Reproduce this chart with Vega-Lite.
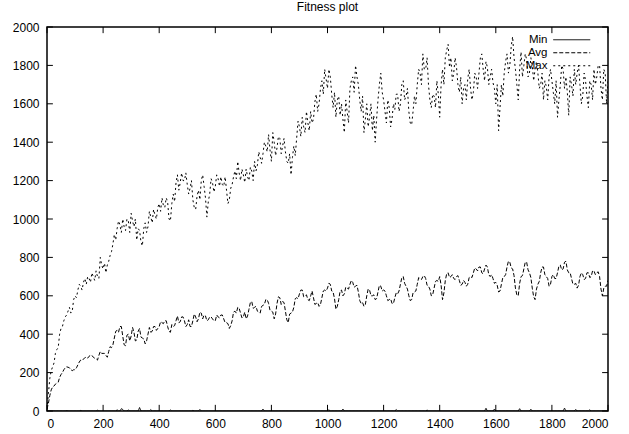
{
  "$schema": "https://vega.github.io/schema/vega-lite/v6.json",
  "width": 561,
  "height": 384,
  "autosize": {"type": "none"},
  "padding": {"left": 47, "top": 27, "right": 21, "bottom": 23},
  "background": "white",
  "title": {"text": "Fitness plot", "font": "Liberation Sans", "fontSize": 12, "fontWeight": "normal", "color": "black", "offset": 7, "anchor": "middle"},
  "config": {
    "view": {"stroke": "black", "strokeWidth": 1.5},
    "axis": {"grid": false, "domain": false, "ticks": false, "labelOverlap": false, "labelFont": "Liberation Sans", "labelFontSize": 12, "labelColor": "black", "title": null, "format": "d"},
    "legend": {"labelFont": "Liberation Sans", "labelFontSize": 11.5, "labelColor": "black"}
  },
  "datasets": {
    "ticks": [{"t":0},{"t":200},{"t":400},{"t":600},{"t":800},{"t":1000},{"t":1200},{"t":1400},{"t":1600},{"t":1800},{"t":2000}],
    "main": [
    {"g":0,"Min":0,"Avg":10,"Max":10},{"g":10,"Min":0,"Avg":80,"Max":170},{"g":20,"Min":0,"Avg":125,"Max":230},{"g":30,"Min":0,"Avg":140,"Max":300},{"g":40,"Min":0,"Avg":150,"Max":330},
    {"g":50,"Min":0,"Avg":190,"Max":430},{"g":60,"Min":0,"Avg":215,"Max":470},{"g":70,"Min":2,"Avg":230,"Max":500},{"g":80,"Min":0,"Avg":225,"Max":540},{"g":90,"Min":0,"Avg":210,"Max":520},
    {"g":100,"Min":0,"Avg":215,"Max":600},{"g":110,"Min":0,"Avg":240,"Max":630},{"g":120,"Min":3,"Avg":265,"Max":650},{"g":130,"Min":0,"Avg":270,"Max":670},{"g":140,"Min":0,"Avg":280,"Max":660},
    {"g":150,"Min":0,"Avg":285,"Max":690},{"g":160,"Min":0,"Avg":290,"Max":720},{"g":170,"Min":0,"Avg":275,"Max":680},{"g":180,"Min":4,"Avg":265,"Max":700},{"g":190,"Min":0,"Avg":310,"Max":800},
    {"g":200,"Min":0,"Avg":300,"Max":740},{"g":210,"Min":0,"Avg":290,"Max":720},{"g":220,"Min":0,"Avg":310,"Max":780},{"g":230,"Min":0,"Avg":330,"Max":830},{"g":240,"Min":0,"Avg":380,"Max":920},
    {"g":250,"Min":6,"Avg":420,"Max":950},{"g":260,"Min":0,"Avg":440,"Max":970},{"g":270,"Min":8,"Avg":390,"Max":1000},{"g":280,"Min":0,"Avg":340,"Max":940},{"g":290,"Min":5,"Avg":400,"Max":990},
    {"g":300,"Min":0,"Avg":390,"Max":1030},{"g":310,"Min":0,"Avg":410,"Max":960},{"g":320,"Min":0,"Avg":370,"Max":890},{"g":330,"Min":18,"Avg":430,"Max":940},{"g":340,"Min":0,"Avg":380,"Max":860},
    {"g":350,"Min":0,"Avg":350,"Max":980},{"g":360,"Min":0,"Avg":400,"Max":960},{"g":370,"Min":7,"Avg":410,"Max":1010},{"g":380,"Min":0,"Avg":440,"Max":1050},{"g":390,"Min":0,"Avg":420,"Max":1000},
    {"g":400,"Min":0,"Avg":440,"Max":1080},{"g":410,"Min":0,"Avg":460,"Max":1110},{"g":420,"Min":0,"Avg":470,"Max":1060},{"g":430,"Min":0,"Avg":440,"Max":1090},{"g":440,"Min":5,"Avg":410,"Max":990},
    {"g":450,"Min":0,"Avg":440,"Max":1130},{"g":460,"Min":0,"Avg":470,"Max":1190},{"g":470,"Min":0,"Avg":460,"Max":1150},{"g":480,"Min":0,"Avg":490,"Max":1240},{"g":490,"Min":0,"Avg":470,"Max":1200},
    {"g":500,"Min":0,"Avg":450,"Max":1180},{"g":510,"Min":0,"Avg":440,"Max":1160},{"g":520,"Min":3,"Avg":470,"Max":1100},{"g":530,"Min":0,"Avg":490,"Max":1050},{"g":540,"Min":0,"Avg":480,"Max":1150},
    {"g":550,"Min":0,"Avg":510,"Max":1200},{"g":560,"Min":0,"Avg":500,"Max":1170},{"g":570,"Min":0,"Avg":470,"Max":1010},{"g":580,"Min":0,"Avg":490,"Max":1130},{"g":590,"Min":0,"Avg":480,"Max":1190},
    {"g":600,"Min":0,"Avg":470,"Max":1170},{"g":610,"Min":0,"Avg":490,"Max":1210},{"g":620,"Min":0,"Avg":500,"Max":1220},{"g":630,"Min":0,"Avg":480,"Max":1170},{"g":640,"Min":0,"Avg":460,"Max":1150},
    {"g":650,"Min":0,"Avg":430,"Max":1100},{"g":660,"Min":0,"Avg":470,"Max":1180},{"g":670,"Min":0,"Avg":520,"Max":1250},{"g":680,"Min":0,"Avg":540,"Max":1300},{"g":690,"Min":0,"Avg":510,"Max":1200},
    {"g":700,"Min":0,"Avg":490,"Max":1230},{"g":710,"Min":0,"Avg":480,"Max":1260},{"g":720,"Min":0,"Avg":530,"Max":1200},{"g":730,"Min":0,"Avg":570,"Max":1250},{"g":740,"Min":0,"Avg":540,"Max":1300},
    {"g":750,"Min":0,"Avg":520,"Max":1280},{"g":760,"Min":0,"Avg":510,"Max":1320},{"g":770,"Min":10,"Avg":550,"Max":1340},{"g":780,"Min":0,"Avg":580,"Max":1380},{"g":790,"Min":0,"Avg":560,"Max":1440},
    {"g":800,"Min":0,"Avg":520,"Max":1300},{"g":810,"Min":0,"Avg":480,"Max":1400},{"g":820,"Min":0,"Avg":560,"Max":1370},{"g":830,"Min":0,"Avg":590,"Max":1420},{"g":840,"Min":0,"Avg":570,"Max":1380},
    {"g":850,"Min":0,"Avg":520,"Max":1350},{"g":860,"Min":0,"Avg":460,"Max":1290},{"g":870,"Min":0,"Avg":510,"Max":1230},{"g":880,"Min":0,"Avg":540,"Max":1380},{"g":890,"Min":0,"Avg":590,"Max":1420},
    {"g":900,"Min":0,"Avg":610,"Max":1480},{"g":910,"Min":0,"Avg":630,"Max":1530},{"g":920,"Min":0,"Avg":600,"Max":1450},{"g":930,"Min":0,"Avg":580,"Max":1500},{"g":940,"Min":0,"Avg":600,"Max":1560},
    {"g":950,"Min":0,"Avg":590,"Max":1520},{"g":960,"Min":0,"Avg":560,"Max":1650},{"g":970,"Min":0,"Avg":545,"Max":1600},{"g":980,"Min":0,"Avg":590,"Max":1720},{"g":990,"Min":0,"Avg":630,"Max":1780},
    {"g":1000,"Min":0,"Avg":640,"Max":1680},{"g":1010,"Min":0,"Avg":660,"Max":1740},{"g":1020,"Min":0,"Avg":620,"Max":1580},{"g":1030,"Min":0,"Avg":530,"Max":1530},{"g":1040,"Min":0,"Avg":580,"Max":1640},
    {"g":1050,"Min":0,"Avg":630,"Max":1600},{"g":1060,"Min":0,"Avg":610,"Max":1450},{"g":1070,"Min":0,"Avg":640,"Max":1560},{"g":1080,"Min":0,"Avg":660,"Max":1680},{"g":1090,"Min":0,"Avg":670,"Max":1740},
    {"g":1100,"Min":0,"Avg":650,"Max":1800},{"g":1110,"Min":0,"Avg":620,"Max":1700},{"g":1120,"Min":0,"Avg":560,"Max":1560},{"g":1130,"Min":0,"Avg":545,"Max":1450},{"g":1140,"Min":0,"Avg":600,"Max":1600},
    {"g":1150,"Min":0,"Avg":630,"Max":1530},{"g":1160,"Min":0,"Avg":600,"Max":1460},{"g":1170,"Min":0,"Avg":580,"Max":1400},{"g":1180,"Min":0,"Avg":620,"Max":1620},{"g":1190,"Min":0,"Avg":650,"Max":1760},
    {"g":1200,"Min":0,"Avg":630,"Max":1620},{"g":1210,"Min":0,"Avg":600,"Max":1500},{"g":1220,"Min":0,"Avg":580,"Max":1580},{"g":1230,"Min":0,"Avg":560,"Max":1520},{"g":1240,"Min":0,"Avg":590,"Max":1570},
    {"g":1250,"Min":0,"Avg":610,"Max":1650},{"g":1260,"Min":0,"Avg":660,"Max":1600},{"g":1270,"Min":0,"Avg":700,"Max":1720},{"g":1280,"Min":0,"Avg":650,"Max":1640},{"g":1290,"Min":0,"Avg":600,"Max":1560},
    {"g":1300,"Min":0,"Avg":580,"Max":1490},{"g":1310,"Min":0,"Avg":620,"Max":1640},{"g":1320,"Min":0,"Avg":660,"Max":1700},{"g":1330,"Min":0,"Avg":690,"Max":1760},{"g":1340,"Min":0,"Avg":700,"Max":1860},
    {"g":1350,"Min":0,"Avg":690,"Max":1780},{"g":1360,"Min":0,"Avg":650,"Max":1700},{"g":1370,"Min":0,"Avg":600,"Max":1580},{"g":1380,"Min":0,"Avg":640,"Max":1640},{"g":1390,"Min":0,"Avg":680,"Max":1720},
    {"g":1400,"Min":0,"Avg":700,"Max":1530},{"g":1410,"Min":0,"Avg":580,"Max":1780},{"g":1420,"Min":0,"Avg":680,"Max":1840},{"g":1430,"Min":0,"Avg":720,"Max":1910},{"g":1440,"Min":0,"Avg":700,"Max":1840},
    {"g":1450,"Min":0,"Avg":690,"Max":1760},{"g":1460,"Min":0,"Avg":700,"Max":1790},{"g":1470,"Min":0,"Avg":680,"Max":1660},{"g":1480,"Min":0,"Avg":660,"Max":1600},{"g":1490,"Min":0,"Avg":670,"Max":1700},
    {"g":1500,"Min":0,"Avg":660,"Max":1730},{"g":1510,"Min":0,"Avg":700,"Max":1680},{"g":1520,"Min":0,"Avg":720,"Max":1660},{"g":1530,"Min":0,"Avg":740,"Max":1740},{"g":1540,"Min":0,"Avg":750,"Max":1760},
    {"g":1550,"Min":0,"Avg":720,"Max":1860},{"g":1560,"Min":0,"Avg":740,"Max":1720},{"g":1570,"Min":0,"Avg":750,"Max":1790},{"g":1580,"Min":0,"Avg":700,"Max":1740},{"g":1590,"Min":0,"Avg":690,"Max":1710},
    {"g":1600,"Min":0,"Avg":670,"Max":1600},{"g":1610,"Min":0,"Avg":620,"Max":1460},{"g":1620,"Min":0,"Avg":660,"Max":1700},{"g":1630,"Min":0,"Avg":700,"Max":1760},{"g":1640,"Min":0,"Avg":750,"Max":1860},
    {"g":1650,"Min":0,"Avg":775,"Max":1800},{"g":1660,"Min":0,"Avg":740,"Max":1950},{"g":1670,"Min":0,"Avg":640,"Max":1780},{"g":1680,"Min":0,"Avg":600,"Max":1620},{"g":1690,"Min":0,"Avg":700,"Max":1870},
    {"g":1700,"Min":0,"Avg":740,"Max":1800},{"g":1710,"Min":0,"Avg":775,"Max":1830},{"g":1720,"Min":0,"Avg":720,"Max":1760},{"g":1730,"Min":0,"Avg":640,"Max":1800},{"g":1740,"Min":0,"Avg":580,"Max":1780},
    {"g":1750,"Min":0,"Avg":660,"Max":1760},{"g":1760,"Min":0,"Avg":720,"Max":1700},{"g":1770,"Min":0,"Avg":750,"Max":1620},{"g":1780,"Min":0,"Avg":700,"Max":1690},{"g":1790,"Min":0,"Avg":650,"Max":1740},
    {"g":1800,"Min":0,"Avg":700,"Max":1720},{"g":1810,"Min":0,"Avg":690,"Max":1600},{"g":1820,"Min":0,"Avg":720,"Max":1530},{"g":1830,"Min":0,"Avg":760,"Max":1700},{"g":1840,"Min":0,"Avg":740,"Max":1780},
    {"g":1850,"Min":0,"Avg":780,"Max":1740},{"g":1860,"Min":0,"Avg":720,"Max":1540},{"g":1870,"Min":0,"Avg":690,"Max":1700},{"g":1880,"Min":0,"Avg":660,"Max":1780},{"g":1890,"Min":0,"Avg":640,"Max":1760},
    {"g":1900,"Min":0,"Avg":700,"Max":1700},{"g":1910,"Min":0,"Avg":710,"Max":1640},{"g":1920,"Min":0,"Avg":690,"Max":1720},{"g":1930,"Min":0,"Avg":720,"Max":1580},{"g":1940,"Min":0,"Avg":700,"Max":1700},
    {"g":1950,"Min":0,"Avg":730,"Max":1780},{"g":1960,"Min":0,"Avg":720,"Max":1740},{"g":1970,"Min":0,"Avg":700,"Max":1800},{"g":1980,"Min":0,"Avg":600,"Max":1620},{"g":1990,"Min":0,"Avg":650,"Max":1760},
    {"g":2000,"Min":0,"Avg":680,"Max":1720},
    {"g":5,"Min":0,"Avg":40,"Max":90},{"g":15,"Min":0,"Avg":110,"Max":210},{"g":25,"Min":0,"Avg":130,"Max":250},{"g":35,"Min":0,"Avg":145,"Max":320},{"g":45,"Min":0,"Avg":175,"Max":400},
    {"g":55,"Min":0,"Avg":200,"Max":440},{"g":65,"Min":0,"Avg":225,"Max":490},{"g":75,"Min":0,"Avg":228,"Max":520},{"g":85,"Min":0,"Avg":215,"Max":510},{"g":95,"Min":0,"Avg":215,"Max":580},
    {"g":105,"Min":0,"Avg":225,"Max":590},{"g":115,"Min":0,"Avg":255,"Max":660},{"g":125,"Min":0,"Avg":262,"Max":630},{"g":135,"Min":0,"Avg":278,"Max":690},{"g":145,"Min":0,"Avg":275,"Max":700},
    {"g":155,"Min":0,"Avg":290,"Max":670},{"g":165,"Min":0,"Avg":280,"Max":700},{"g":175,"Min":0,"Avg":272,"Max":730},{"g":185,"Min":0,"Avg":290,"Max":690},{"g":195,"Min":0,"Avg":300,"Max":760},
    {"g":205,"Min":0,"Avg":300,"Max":770},{"g":215,"Min":0,"Avg":280,"Max":760},{"g":225,"Min":0,"Avg":335,"Max":810},{"g":235,"Min":0,"Avg":345,"Max":870},{"g":245,"Min":0,"Avg":415,"Max":890},
    {"g":255,"Min":0,"Avg":410,"Max":990},{"g":265,"Min":12,"Avg":440,"Max":930},{"g":275,"Min":0,"Avg":345,"Max":960},{"g":285,"Min":0,"Avg":395,"Max":1000},{"g":295,"Min":0,"Avg":365,"Max":930},
    {"g":305,"Min":0,"Avg":435,"Max":990},{"g":315,"Min":0,"Avg":365,"Max":1000},{"g":325,"Min":0,"Avg":415,"Max":950},{"g":335,"Min":0,"Avg":385,"Max":880},{"g":345,"Min":0,"Avg":375,"Max":950},
    {"g":355,"Min":0,"Avg":365,"Max":930},{"g":365,"Min":0,"Avg":435,"Max":1040},{"g":375,"Min":0,"Avg":415,"Max":980},{"g":385,"Min":0,"Avg":440,"Max":1020},{"g":395,"Min":0,"Avg":430,"Max":1060},
    {"g":405,"Min":0,"Avg":465,"Max":1040},{"g":415,"Min":0,"Avg":455,"Max":1070},{"g":425,"Min":0,"Avg":470,"Max":1110},{"g":435,"Min":0,"Avg":415,"Max":1000},{"g":445,"Min":0,"Avg":450,"Max":1080},
    {"g":455,"Min":0,"Avg":445,"Max":1090},{"g":465,"Min":0,"Avg":495,"Max":1230},{"g":475,"Min":0,"Avg":465,"Max":1190},{"g":485,"Min":0,"Avg":490,"Max":1200},{"g":495,"Min":0,"Avg":440,"Max":1240},
    {"g":505,"Min":0,"Avg":475,"Max":1130},{"g":515,"Min":0,"Avg":440,"Max":1200},{"g":525,"Min":0,"Avg":505,"Max":1060},{"g":535,"Min":0,"Avg":465,"Max":1120},{"g":545,"Min":8,"Avg":515,"Max":1100},
    {"g":555,"Min":0,"Avg":480,"Max":1230},{"g":565,"Min":0,"Avg":495,"Max":1110},{"g":575,"Min":0,"Avg":475,"Max":1090},{"g":585,"Min":0,"Avg":490,"Max":1210},{"g":595,"Min":0,"Avg":470,"Max":1140},
    {"g":605,"Min":0,"Avg":500,"Max":1230},{"g":615,"Min":0,"Avg":485,"Max":1170},{"g":625,"Min":0,"Avg":500,"Max":1180},{"g":635,"Min":0,"Avg":460,"Max":1220},{"g":645,"Min":0,"Avg":455,"Max":1080},
    {"g":655,"Min":0,"Avg":445,"Max":1160},{"g":665,"Min":0,"Avg":515,"Max":1220},{"g":675,"Min":0,"Avg":510,"Max":1210},{"g":685,"Min":0,"Avg":535,"Max":1240},{"g":695,"Min":0,"Avg":485,"Max":1260},
    {"g":705,"Min":0,"Avg":515,"Max":1190},{"g":715,"Min":0,"Avg":495,"Max":1220},{"g":725,"Min":0,"Avg":565,"Max":1270},{"g":735,"Min":0,"Avg":535,"Max":1200},{"g":745,"Min":0,"Avg":545,"Max":1250},
    {"g":755,"Min":0,"Avg":515,"Max":1350},{"g":765,"Min":0,"Avg":545,"Max":1290},{"g":775,"Min":0,"Avg":555,"Max":1400},{"g":785,"Min":0,"Avg":580,"Max":1350},{"g":795,"Min":0,"Avg":525,"Max":1360},
    {"g":805,"Min":0,"Avg":515,"Max":1450},{"g":815,"Min":0,"Avg":505,"Max":1330},{"g":825,"Min":0,"Avg":595,"Max":1430},{"g":835,"Min":0,"Avg":555,"Max":1340},{"g":845,"Min":0,"Avg":565,"Max":1420},
    {"g":855,"Min":0,"Avg":475,"Max":1300},{"g":865,"Min":0,"Avg":505,"Max":1340},{"g":875,"Min":0,"Avg":515,"Max":1320},{"g":885,"Min":0,"Avg":585,"Max":1330},{"g":895,"Min":0,"Avg":585,"Max":1510},
    {"g":905,"Min":0,"Avg":630,"Max":1430},{"g":915,"Min":0,"Avg":595,"Max":1480},{"g":925,"Min":0,"Avg":605,"Max":1560},{"g":935,"Min":0,"Avg":575,"Max":1460},{"g":945,"Min":0,"Avg":625,"Max":1500},
    {"g":955,"Min":0,"Avg":555,"Max":1610},{"g":965,"Min":0,"Avg":565,"Max":1560},{"g":975,"Min":0,"Avg":555,"Max":1680},{"g":985,"Min":0,"Avg":625,"Max":1650},{"g":995,"Min":0,"Avg":625,"Max":1730},
    {"g":1005,"Min":6,"Avg":665,"Max":1780},{"g":1015,"Min":0,"Avg":625,"Max":1650},{"g":1025,"Min":0,"Avg":585,"Max":1660},{"g":1035,"Min":0,"Avg":545,"Max":1620},{"g":1045,"Min":0,"Avg":625,"Max":1540},
    {"g":1055,"Min":10,"Avg":600,"Max":1520},{"g":1065,"Min":0,"Avg":645,"Max":1620},{"g":1075,"Min":0,"Avg":635,"Max":1500},{"g":1085,"Min":0,"Avg":680,"Max":1720},{"g":1095,"Min":0,"Avg":645,"Max":1660},
    {"g":1105,"Min":0,"Avg":655,"Max":1740},{"g":1115,"Min":0,"Avg":575,"Max":1620},{"g":1125,"Min":0,"Avg":565,"Max":1640},{"g":1135,"Min":0,"Avg":555,"Max":1520},{"g":1145,"Min":0,"Avg":635,"Max":1480},
    {"g":1155,"Min":0,"Avg":600,"Max":1600},{"g":1165,"Min":0,"Avg":605,"Max":1540},{"g":1175,"Min":0,"Avg":585,"Max":1520},{"g":1185,"Min":0,"Avg":655,"Max":1700},{"g":1195,"Min":0,"Avg":625,"Max":1660},
    {"g":1205,"Min":0,"Avg":625,"Max":1560},{"g":1215,"Min":0,"Avg":575,"Max":1620},{"g":1225,"Min":0,"Avg":585,"Max":1480},{"g":1235,"Min":0,"Avg":560,"Max":1600},{"g":1245,"Min":7,"Avg":615,"Max":1650},
    {"g":1255,"Min":0,"Avg":625,"Max":1560},{"g":1265,"Min":0,"Avg":695,"Max":1700},{"g":1275,"Min":0,"Avg":665,"Max":1620},{"g":1285,"Min":0,"Avg":635,"Max":1680},{"g":1295,"Min":0,"Avg":575,"Max":1500},
    {"g":1305,"Min":0,"Avg":615,"Max":1560},{"g":1315,"Min":0,"Avg":625,"Max":1600},{"g":1325,"Min":0,"Avg":695,"Max":1780},{"g":1335,"Min":0,"Avg":685,"Max":1700},{"g":1345,"Min":0,"Avg":705,"Max":1780},
    {"g":1355,"Min":5,"Avg":655,"Max":1840},{"g":1365,"Min":0,"Avg":635,"Max":1620},{"g":1375,"Min":0,"Avg":605,"Max":1650},{"g":1385,"Min":0,"Avg":675,"Max":1580},{"g":1395,"Min":0,"Avg":675,"Max":1650},
    {"g":1405,"Min":0,"Avg":655,"Max":1700},{"g":1415,"Min":0,"Avg":615,"Max":1700},{"g":1425,"Min":0,"Avg":715,"Max":1880},{"g":1435,"Min":0,"Avg":695,"Max":1790},{"g":1445,"Min":0,"Avg":710,"Max":1720},
    {"g":1455,"Min":0,"Avg":685,"Max":1840},{"g":1465,"Min":0,"Avg":705,"Max":1700},{"g":1475,"Min":0,"Avg":655,"Max":1740},{"g":1485,"Min":0,"Avg":680,"Max":1680},{"g":1495,"Min":0,"Avg":650,"Max":1620},
    {"g":1505,"Min":0,"Avg":695,"Max":1780},{"g":1515,"Min":0,"Avg":695,"Max":1620},{"g":1525,"Min":0,"Avg":745,"Max":1760},{"g":1535,"Min":0,"Avg":730,"Max":1680},{"g":1545,"Min":0,"Avg":750,"Max":1840},
    {"g":1555,"Min":0,"Avg":715,"Max":1780},{"g":1565,"Min":14,"Avg":760,"Max":1820},{"g":1575,"Min":0,"Avg":710,"Max":1700},{"g":1585,"Min":0,"Avg":710,"Max":1780},{"g":1595,"Min":10,"Avg":665,"Max":1680},
    {"g":1605,"Min":0,"Avg":655,"Max":1700},{"g":1615,"Min":0,"Avg":625,"Max":1580},{"g":1625,"Min":0,"Avg":695,"Max":1640},{"g":1635,"Min":0,"Avg":710,"Max":1820},{"g":1645,"Min":0,"Avg":780,"Max":1760},
    {"g":1655,"Min":0,"Avg":745,"Max":1900},{"g":1665,"Min":0,"Avg":705,"Max":1840},{"g":1675,"Min":0,"Avg":605,"Max":1700},{"g":1685,"Min":12,"Avg":665,"Max":1780},{"g":1695,"Min":0,"Avg":705,"Max":1740},
    {"g":1705,"Min":0,"Avg":775,"Max":1860},{"g":1715,"Min":0,"Avg":735,"Max":1740},{"g":1725,"Min":9,"Avg":695,"Max":1840},{"g":1735,"Min":0,"Avg":595,"Max":1720},{"g":1745,"Min":0,"Avg":635,"Max":1820},
    {"g":1755,"Min":0,"Avg":675,"Max":1680},{"g":1765,"Min":0,"Avg":750,"Max":1760},{"g":1775,"Min":0,"Avg":710,"Max":1720},{"g":1785,"Min":0,"Avg":690,"Max":1620},{"g":1795,"Min":0,"Avg":660,"Max":1780},
    {"g":1805,"Min":0,"Avg":710,"Max":1660},{"g":1815,"Min":0,"Avg":690,"Max":1720},{"g":1825,"Min":0,"Avg":755,"Max":1620},{"g":1835,"Min":0,"Avg":735,"Max":1800},{"g":1845,"Min":15,"Avg":775,"Max":1680},
    {"g":1855,"Min":0,"Avg":735,"Max":1660},{"g":1865,"Min":0,"Avg":720,"Max":1740},{"g":1875,"Min":0,"Avg":660,"Max":1640},{"g":1885,"Min":8,"Avg":665,"Max":1700},{"g":1895,"Min":0,"Avg":655,"Max":1800},
    {"g":1905,"Min":0,"Avg":720,"Max":1600},{"g":1915,"Min":0,"Avg":685,"Max":1760},{"g":1925,"Min":0,"Avg":720,"Max":1640},{"g":1935,"Min":6,"Avg":695,"Max":1720},{"g":1945,"Min":0,"Avg":730,"Max":1620},
    {"g":1955,"Min":0,"Avg":710,"Max":1700},{"g":1965,"Min":0,"Avg":725,"Max":1800},{"g":1975,"Min":0,"Avg":635,"Max":1680},{"g":1985,"Min":0,"Avg":640,"Max":1780},{"g":1995,"Min":0,"Avg":650,"Max":1600}
    ]
  },
  "layer": [
    {
      "data": {"name": "main"},
      "transform": [{"fold": ["Min", "Avg", "Max"], "as": ["series", "value"]}],
      "mark": {"type": "line", "color": "black", "strokeWidth": 1, "clip": true},
      "encoding": {
        "x": {"field": "g", "type": "quantitative", "scale": {"domain": [0, 2000], "nice": false, "zero": false},
              "axis": {"orient": "bottom", "labelPadding": 7, "labelOverlap": false, "values": [0,200,400,600,800,1000,1200,1400,1600,1800,2000]}},
        "y": {"field": "value", "type": "quantitative", "scale": {"domain": [0, 2000], "nice": false},
              "axis": {"orient": "left", "labelPadding": 8, "labelOverlap": false, "values": [0,200,400,600,800,1000,1200,1400,1600,1800,2000]}},
        "strokeDash": {"field": "series", "type": "nominal",
          "scale": {"domain": ["Min", "Avg", "Max"], "range": [[1, 0], [4, 2], [2, 3]]},
          "legend": {"title": null, "orient": "none", "legendX": 519, "legendY": 7, "direction": "vertical",
                     "symbolType": "M-3.7,0H3.7", "symbolSize": 100, "symbolStrokeColor": "black", "symbolStrokeWidth": 1,
                     "labelAlign": "right", "labelOffset": -30, "rowPadding": 0}}
      }
    },
    {
      "data": {"name": "ticks"},
      "mark": {"type": "rule", "color": "black", "strokeWidth": 1},
      "encoding": {
        "x": {"field": "t", "type": "quantitative", "axis": {"orient": "bottom", "labelPadding": 7, "labelOverlap": false, "values": [0,200,400,600,800,1000,1200,1400,1600,1800,2000]}},
        "y": {"datum": 0, "type": "quantitative", "axis": {"orient": "left", "labelPadding": 8, "labelOverlap": false, "values": [0,200,400,600,800,1000,1200,1400,1600,1800,2000]}},
        "y2": {"datum": 32}}
    },
    {
      "data": {"name": "ticks"},
      "mark": {"type": "rule", "color": "black", "strokeWidth": 1},
      "encoding": {
        "x": {"field": "t", "type": "quantitative", "axis": {"orient": "bottom", "labelPadding": 7, "labelOverlap": false, "values": [0,200,400,600,800,1000,1200,1400,1600,1800,2000]}},
        "y": {"datum": 2000, "type": "quantitative", "axis": {"orient": "left", "labelPadding": 8, "labelOverlap": false, "values": [0,200,400,600,800,1000,1200,1400,1600,1800,2000]}},
        "y2": {"datum": 1968}}
    },
    {
      "data": {"name": "ticks"},
      "mark": {"type": "rule", "color": "black", "strokeWidth": 1},
      "encoding": {
        "y": {"field": "t", "type": "quantitative", "axis": {"orient": "left", "labelPadding": 8, "labelOverlap": false, "values": [0,200,400,600,800,1000,1200,1400,1600,1800,2000]}},
        "x": {"datum": 0, "type": "quantitative", "axis": {"orient": "bottom", "labelPadding": 7, "labelOverlap": false, "values": [0,200,400,600,800,1000,1200,1400,1600,1800,2000]}},
        "x2": {"datum": 21}}
    },
    {
      "data": {"name": "ticks"},
      "mark": {"type": "rule", "color": "black", "strokeWidth": 1},
      "encoding": {
        "y": {"field": "t", "type": "quantitative", "axis": {"orient": "left", "labelPadding": 8, "labelOverlap": false, "values": [0,200,400,600,800,1000,1200,1400,1600,1800,2000]}},
        "x": {"datum": 2000, "type": "quantitative", "axis": {"orient": "bottom", "labelPadding": 7, "labelOverlap": false, "values": [0,200,400,600,800,1000,1200,1400,1600,1800,2000]}},
        "x2": {"datum": 1979}}
    }
  ]
}
